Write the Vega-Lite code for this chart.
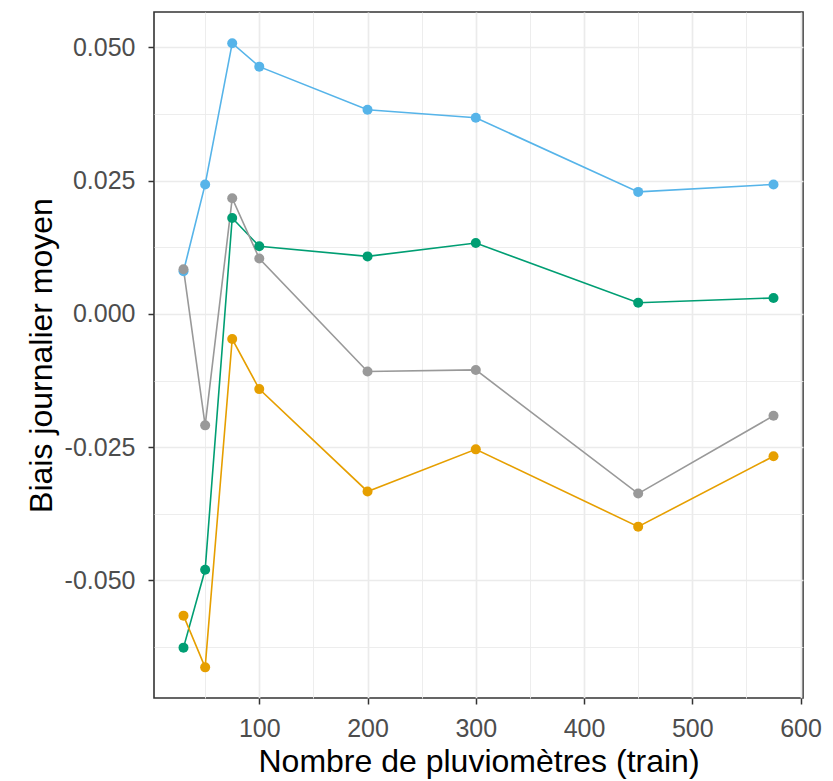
{
  "$schema": "https://vega.github.io/schema/vega-lite/v6.json",
  "width": 649,
  "height": 686,
  "autosize": "none",
  "padding": {"left": 154, "top": 12, "right": 30, "bottom": 83},
  "background": "white",
  "config": {
    "font": "Liberation Sans",
    "view": {"stroke": "#333333", "strokeWidth": 1.6},
    "axis": {
      "labelFont": "Liberation Sans",
      "titleFont": "Liberation Sans",
      "labelFontSize": 25,
      "labelColor": "#4D4D4D",
      "titleFontSize": 32,
      "titleFontWeight": "normal",
      "titleColor": "#000000",
      "tickColor": "#333333",
      "tickSize": 6,
      "tickWidth": 1.5,
      "domain": false,
      "gridColor": "#EBEBEB"
    }
  },
  "data": {
    "values": [
      {"n": 30, "bias": 0.0080, "serie": "bleu"},
      {"n": 50, "bias": 0.0243, "serie": "bleu"},
      {"n": 75, "bias": 0.0508, "serie": "bleu"},
      {"n": 100, "bias": 0.0464, "serie": "bleu"},
      {"n": 200, "bias": 0.0383, "serie": "bleu"},
      {"n": 300, "bias": 0.0368, "serie": "bleu"},
      {"n": 450, "bias": 0.0229, "serie": "bleu"},
      {"n": 575, "bias": 0.0243, "serie": "bleu"},
      {"n": 30, "bias": -0.0626, "serie": "vert"},
      {"n": 50, "bias": -0.0480, "serie": "vert"},
      {"n": 75, "bias": 0.0180, "serie": "vert"},
      {"n": 100, "bias": 0.0127, "serie": "vert"},
      {"n": 200, "bias": 0.0108, "serie": "vert"},
      {"n": 300, "bias": 0.0133, "serie": "vert"},
      {"n": 450, "bias": 0.0021, "serie": "vert"},
      {"n": 575, "bias": 0.0030, "serie": "vert"},
      {"n": 30, "bias": 0.0084, "serie": "gris"},
      {"n": 50, "bias": -0.0209, "serie": "gris"},
      {"n": 75, "bias": 0.0217, "serie": "gris"},
      {"n": 100, "bias": 0.0104, "serie": "gris"},
      {"n": 200, "bias": -0.0108, "serie": "gris"},
      {"n": 300, "bias": -0.0105, "serie": "gris"},
      {"n": 450, "bias": -0.0337, "serie": "gris"},
      {"n": 575, "bias": -0.0191, "serie": "gris"},
      {"n": 30, "bias": -0.0566, "serie": "orange"},
      {"n": 50, "bias": -0.0663, "serie": "orange"},
      {"n": 75, "bias": -0.0047, "serie": "orange"},
      {"n": 100, "bias": -0.0141, "serie": "orange"},
      {"n": 200, "bias": -0.0333, "serie": "orange"},
      {"n": 300, "bias": -0.0254, "serie": "orange"},
      {"n": 450, "bias": -0.0399, "serie": "orange"},
      {"n": 575, "bias": -0.0267, "serie": "orange"}
    ]
  },
  "encoding": {
    "x": {
      "field": "n",
      "type": "quantitative",
      "scale": {"domain": [2.75, 602.25], "nice": false, "zero": false},
      "axis": {
        "title": "Nombre de pluviomètres (train)",
        "values": [50, 100, 150, 200, 250, 300, 350, 400, 450, 500, 550, 600],
        "labelExpr": "datum.value % 100 === 0 ? datum.label : ''",
        "tickOpacity": {"condition": {"test": "datum.value % 100 === 0", "value": 1}, "value": 0},
        "gridWidth": {"condition": {"test": "datum.value % 100 === 0", "value": 1.7}, "value": 0.9},
        "labelPadding": 12,
        "titlePadding": 5,
        "labelFlush": false
      }
    },
    "y": {
      "field": "bias",
      "type": "quantitative",
      "scale": {"domain": [-0.07205, 0.05665], "nice": false, "zero": false},
      "axis": {
        "title": "Biais journalier moyen",
        "values": [-0.0625, -0.05, -0.0375, -0.025, -0.0125, 0, 0.0125, 0.025, 0.0375, 0.05],
        "format": ".3f",
        "labelExpr": "abs(round(datum.value * 40) - datum.value * 40) < 0.001 ? replace(datum.label, '−', '-') : ''",
        "tickOpacity": {"condition": {"test": "abs(round(datum.value * 40) - datum.value * 40) < 0.001", "value": 1}, "value": 0},
        "gridWidth": {"condition": {"test": "abs(round(datum.value * 40) - datum.value * 40) < 0.001", "value": 1.7}, "value": 0.9},
        "labelPadding": 13,
        "titlePadding": 6,
        "labelFlush": false
      }
    },
    "color": {
      "field": "serie",
      "type": "nominal",
      "scale": {"domain": ["gris", "orange", "vert", "bleu"], "range": ["#999999", "#E69F00", "#009E73", "#56B4E9"]},
      "legend": null
    }
  },
  "layer": [
    {"mark": {"type": "line", "strokeWidth": 1.6}},
    {"mark": {"type": "point", "filled": true, "size": 100, "opacity": 1}}
  ]
}
